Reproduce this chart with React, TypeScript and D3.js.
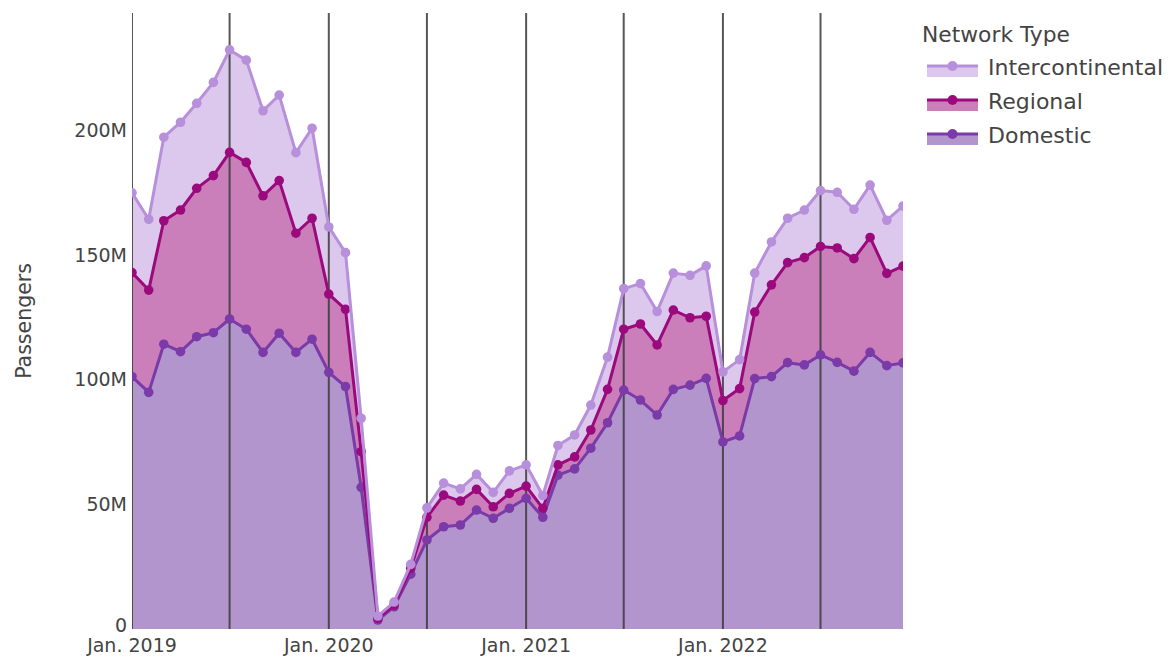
import React from "react";
import * as d3 from "d3";

const months: string[] = [];
for (let y = 2019; y <= 2022; y++) for (let m = 1; m <= 12; m++) months.push(`${y}-${String(m).padStart(2, "0")}-01`);

const domestic = [101.2,94.9,114.2,111.2,117.2,118.8,124.3,120.2,110.9,118.6,110.9,116.2,102.9,97.2,56.8,3.6,8.9,22.0,35.7,41.0,41.7,47.7,44.4,48.4,52.4,44.8,61.7,64.2,72.5,82.7,95.8,91.8,85.8,96.1,97.8,100.5,75.0,77.4,100.4,101.2,106.8,105.9,109.9,106.9,103.4,110.9,105.6,106.7];
const regional = [41.7,41.0,49.5,56.8,59.5,63.0,66.8,66.9,62.8,61.2,47.8,48.5,31.4,31.0,14.3,0.7,0.7,2.3,9.1,12.7,9.6,8.3,4.6,6.0,4.9,3.6,4.1,4.8,7.3,13.4,24.4,30.5,28.1,31.8,27.0,24.9,16.6,19.0,26.7,36.8,40.1,43.0,43.5,45.9,45.1,46.1,37.0,38.8];
const intercontinental = [32.0,28.4,33.5,35.2,34.1,37.4,41.1,41.0,34.1,34.3,32.3,36.1,26.9,22.7,13.4,0.9,1.2,1.6,3.8,4.8,4.9,6.0,5.8,9.0,8.5,5.1,7.8,8.8,10.0,12.9,16.3,16.2,13.4,14.8,17.0,20.2,11.5,11.6,15.6,17.2,17.8,19.1,22.4,22.3,19.8,21.0,21.3,24.1];

const yTicks = [0, 50, 100, 150, 200];
const xTickDates = ["2019-01-01", "2020-01-01", "2021-01-01", "2022-01-01"];
const xTickLabels = ["Jan. 2019", "Jan. 2020", "Jan. 2021", "Jan. 2022"];
const vLineDates = ["2019-01-01","2019-07-01","2020-01-01","2020-07-01","2021-01-01","2021-07-01","2022-01-01","2022-07-01"];

const seriesNames = ["Domestic", "Regional", "Intercontinental"];
const seriesData = [domestic, regional, intercontinental];
const lineColors = ["#7a3aa8", "#9b0a7d", "#b78fda"];
const fillColors = ["#b395cd", "#ca7fba", "#dcc8ed"];

const W = 1171, H = 657;
const L = 132, R = 903, T = 13, B = 629;
const FONT = "DejaVu Sans, sans-serif";
const TXT = "#444";

export default function App() {
  const parse = d3.timeParse("%Y-%m-%d");
  const dates = months.map((m) => parse(m) as Date);
  const x = d3.scaleTime().domain([dates[0], dates[dates.length - 1]]).range([L, R]);
  const y = d3.scaleLinear().domain([0, 247]).range([B, T]);

  const cum: number[][] = [];
  let base = dates.map(() => 0);
  const bases: number[][] = [];
  seriesData.forEach((s) => {
    bases.push(base);
    const top = s.map((v, i) => base[i] + v);
    cum.push(top);
    base = top;
  });

  const line = d3
    .line<number>()
    .x((_, i) => x(dates[i]))
    .y((v) => y(v));

  const legendOrder = [2, 1, 0];

  return (
    <svg width={W} height={H} style={{ display: "block", position: "absolute", left: 0, top: 0 }} fontFamily={FONT}>
      <defs>
        <clipPath id="plot">
          <rect x={L} y={T} width={R - L} height={B - T} />
        </clipPath>
      </defs>
      <rect width={W} height={H} fill="#fff" />
      <g clipPath="url(#plot)">
        {cum.map((top, k) => {
          const b = bases[k];
          const a = d3
            .area<number>()
            .x((_, i) => x(dates[i]))
            .y0((_, i) => y(b[i]))
            .y1((v) => y(v));
          return <path key={"a" + k} d={a(top) || ""} fill={fillColors[k]} stroke="none" />;
        })}
        {vLineDates.map((d) => {
          const xx = x(parse(d) as Date);
          return <line key={d} x1={xx} x2={xx} y1={T} y2={B} stroke="#3a3a3a" strokeOpacity={0.85} strokeWidth={2} />;
        })}
        {cum.map((top, k) => (
          <g key={"l" + k}>
            <path d={line(top) || ""} fill="none" stroke={lineColors[k]} strokeWidth={3} strokeLinejoin="round" />
            {top.map((v, i) => (
              <circle key={i} cx={x(dates[i])} cy={y(v)} r={4.8} fill={lineColors[k]} />
            ))}
          </g>
        ))}
      </g>
      {yTicks.map((t) => (
        <text key={t} x={127} y={y(t) - (t === 0 ? 4 : 0)} dy="0.36em" textAnchor="end" fontSize={19} fill={TXT}>
          {t === 0 ? "0" : `${t}M`}
        </text>
      ))}
      {xTickDates.map((d, i) => (
        <text key={d} x={x(parse(d) as Date)} y={652} textAnchor="middle" fontSize={19} fill={TXT}>
          {xTickLabels[i]}
        </text>
      ))}
      <text transform={`translate(31,${(T + B) / 2}) rotate(-90)`} textAnchor="middle" fontSize={20.5} fill={TXT}>
        Passengers
      </text>
      <text x={922} y={42} fontSize={21.8} fill={TXT}>
        Network Type
      </text>
      {legendOrder.map((k, j) => {
        const cy = 67 + j * 34;
        return (
          <g key={"lg" + k}>
            <rect x={927} y={cy - 2} width={51} height={12} fill={fillColors[k]} />
            <line x1={927} x2={978} y1={cy - 1} y2={cy - 1} stroke={lineColors[k]} strokeWidth={3} />
            <circle cx={952.5} cy={cy - 1} r={5} fill={lineColors[k]} />
            <text x={988} y={cy} dy="0.36em" fontSize={22} fill={TXT}>
              {seriesNames[k]}
            </text>
          </g>
        );
      })}
    </svg>
  );
}
